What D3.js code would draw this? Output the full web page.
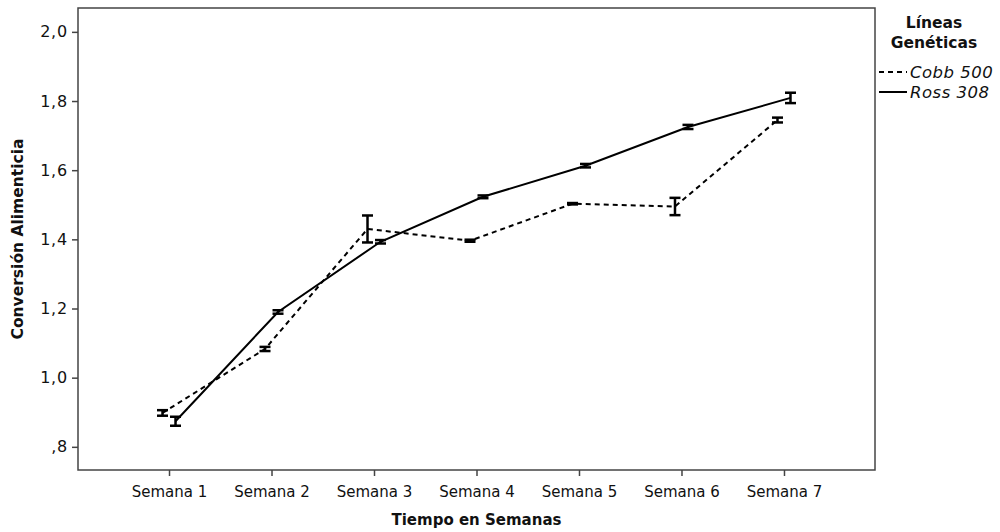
<!DOCTYPE html>
<html>
<head>
<meta charset="utf-8">
<script src="https://cdn.jsdelivr.net/npm/d3@7"></script>
<style>
  html, body { margin: 0; padding: 0; background: #fff; }
  svg { display: block; }
  text { font-family: "DejaVu Sans", "Liberation Sans", sans-serif; fill: #111; }
</style>
</head>
<body>
<svg id="chart" width="1000" height="532"></svg>
<script>
const weeks = ["Semana 1", "Semana 2", "Semana 3", "Semana 4", "Semana 5", "Semana 6", "Semana 7"];
const seriesNames = ["Cobb 500", "Ross 308"];
const cobbMean = [0.898, 1.083, 1.430, 1.396, 1.503, 1.495, 1.745];
const cobbErr  = [0.008, 0.006, 0.039, 0.003, 0.002, 0.025, 0.007];
const rossMean = [0.874, 1.190, 1.393, 1.523, 1.613, 1.725, 1.809];
const rossErr  = [0.013, 0.005, 0.005, 0.004, 0.005, 0.006, 0.015];
const yTicks = [0.8, 1.0, 1.2, 1.4, 1.6, 1.8, 2.0];
const yTickLabels = [",8", "1,0", "1,2", "1,4", "1,6", "1,8", "2,0"];
const xTitle = "Tiempo en Semanas";
const yTitle = "Conversión Alimenticia";
const legendTitle = ["Líneas", "Genéticas"];

const svg = d3.select("#chart");
const L = 78, R = 875, T = 8, B = 470;

const x = d3.scalePoint().domain(weeks).range([L, R]).padding(0.888);
const y = d3.scaleLinear().domain([0.733, 2.069]).range([B, T]);

const series = [
  { name: seriesNames[0], mean: cobbMean, err: cobbErr, dash: "5,4", off: -6.5 },
  { name: seriesNames[1], mean: rossMean, err: rossErr, dash: null, off: 6.5 }
];

// frame
svg.append("rect").attr("x", L).attr("y", T).attr("width", R - L).attr("height", B - T)
  .attr("fill", "none").attr("stroke", "#444").attr("stroke-width", 1.5);

// axes
const yAxis = d3.axisLeft(y).tickValues(yTicks)
  .tickFormat((d, i) => yTickLabels[i]).tickSize(6).tickPadding(4);
const gy = svg.append("g").attr("transform", `translate(${L},0)`).call(yAxis);
gy.select(".domain").remove();
gy.selectAll(".tick line").attr("stroke", "#444").attr("stroke-width", 1.5);
gy.selectAll(".tick text").style("font-size", "16px").style("letter-spacing", "0.8px").attr("fill", "#111");

const xAxis = d3.axisBottom(x).tickSize(6).tickPadding(10);
const gx = svg.append("g").attr("transform", `translate(0,${B})`).call(xAxis);
gx.select(".domain").remove();
gx.selectAll(".tick line").attr("stroke", "#444").attr("stroke-width", 1.5);
gx.selectAll(".tick text").style("font-size", "15px").attr("fill", "#111");

// titles
svg.append("text").attr("x", (L + R) / 2).attr("y", 525).attr("text-anchor", "middle")
  .style("font-size", "15px").style("font-weight", "bold").text(xTitle);
svg.append("text").attr("transform", `translate(23,${(T + B) / 2}) rotate(-90)`)
  .attr("text-anchor", "middle").style("font-size", "15.5px").style("font-weight", "bold").text(yTitle);

// lines and error bars
const line = d3.line();
series.forEach(s => {
  const pts = weeks.map((w, i) => [x(w) + s.off, y(s.mean[i])]);
  svg.append("path").attr("d", line(pts)).attr("fill", "none").attr("stroke", "#000")
    .attr("stroke-width", 2).attr("stroke-dasharray", s.dash);
  const g = svg.append("g");
  weeks.forEach((w, i) => {
    const cx = x(w) + s.off;
    const y1 = y(s.mean[i] + s.err[i]), y2 = y(s.mean[i] - s.err[i]);
    g.append("line").attr("x1", cx).attr("x2", cx).attr("y1", y1).attr("y2", y2)
      .attr("stroke", "#000").attr("stroke-width", 2.5);
    [y1, y2].forEach(yy => g.append("line").attr("x1", cx - 5.5).attr("x2", cx + 5.5)
      .attr("y1", yy).attr("y2", yy).attr("stroke", "#000").attr("stroke-width", 2.5));
  });
});

// legend
const lg = svg.append("g");
legendTitle.forEach((t, i) => lg.append("text").attr("x", 934).attr("y", 28 + i * 20)
  .attr("text-anchor", "middle").style("font-size", "15.5px").style("font-weight", "bold").text(t));
series.forEach((s, i) => {
  const yy = 72 + i * 20;
  lg.append("line").attr("x1", 879).attr("x2", 907).attr("y1", yy).attr("y2", yy)
    .attr("stroke", "#000").attr("stroke-width", 2).attr("stroke-dasharray", s.dash);
  lg.append("text").attr("x", 910).attr("y", yy + 5.5).style("font-size", "16.5px")
    .style("letter-spacing", "0.5px").style("font-style", "italic").text(s.name);
});
</script>
</body>
</html>
